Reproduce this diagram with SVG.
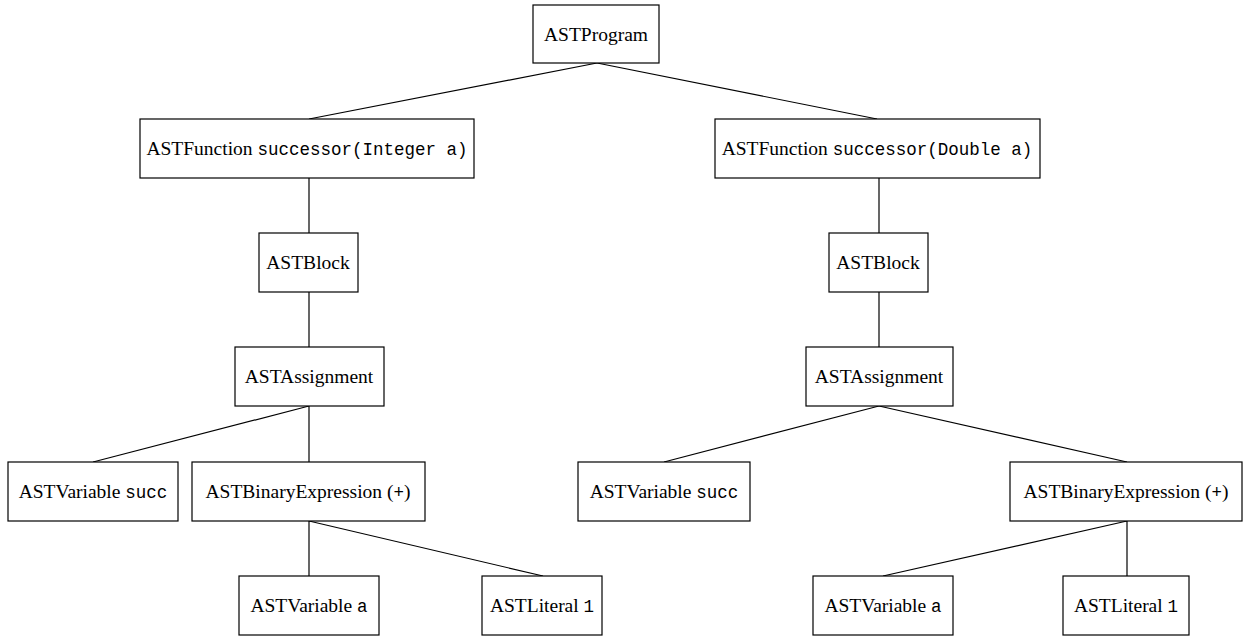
<svg xmlns="http://www.w3.org/2000/svg" width="1243" height="637" viewBox="0 0 1243 637">
<style>
.box{fill:#fff;stroke:#000;stroke-width:1.2}
.t{font-family:'Liberation Serif','Times New Roman',serif;font-size:19.5px;text-anchor:middle;fill:#000}
.m{font-family:'Liberation Mono','Courier New',monospace;font-size:17.5px}
.c{stroke:#000;stroke-width:1.2;fill:none}
</style>
<rect width="1243" height="637" fill="#fff"/>
<g id="connectors">
<line class="c" x1="597" y1="63" x2="309" y2="119"/>
<line class="c" x1="597" y1="63" x2="877" y2="119"/>
<line class="c" x1="309" y1="178" x2="309" y2="233"/>
<line class="c" x1="309" y1="292" x2="309" y2="347"/>
<line class="c" x1="309" y1="406" x2="93" y2="462"/>
<line class="c" x1="309" y1="406" x2="309" y2="462"/>
<line class="c" x1="309" y1="521" x2="309" y2="576"/>
<line class="c" x1="309" y1="521" x2="543" y2="576"/>
<line class="c" x1="879" y1="178" x2="879" y2="233"/>
<line class="c" x1="879" y1="292" x2="879" y2="347"/>
<line class="c" x1="879" y1="406" x2="664" y2="462"/>
<line class="c" x1="879" y1="406" x2="1127" y2="462"/>
<line class="c" x1="1127" y1="521" x2="883" y2="576"/>
<line class="c" x1="1127" y1="521" x2="1127" y2="576"/>
</g>
<g id="program"><rect class="box" x="533" y="5" width="126" height="58"/><text class="t" x="596" y="41">ASTProgram</text></g>
<g id="funcL"><rect class="box" x="140" y="119" width="334" height="59"/><text class="t" x="307" y="155">ASTFunction <tspan class="m">successor(Integer a)</tspan></text></g>
<g id="funcR"><rect class="box" x="715" y="119" width="325" height="59"/><text class="t" x="877" y="155">ASTFunction <tspan class="m">successor(Double a)</tspan></text></g>
<g id="blockL"><rect class="box" x="259" y="233" width="99" height="59"/><text class="t" x="308" y="269">ASTBlock</text></g>
<g id="blockR"><rect class="box" x="829" y="233" width="99" height="59"/><text class="t" x="878" y="269">ASTBlock</text></g>
<g id="assignL"><rect class="box" x="235" y="347" width="149" height="59"/><text class="t" x="309" y="383">ASTAssignment</text></g>
<g id="assignR"><rect class="box" x="806" y="347" width="147" height="59"/><text class="t" x="879" y="383">ASTAssignment</text></g>
<g id="varSuccL"><rect class="box" x="8" y="462" width="170" height="59"/><text class="t" x="93" y="498">ASTVariable <tspan class="m">succ</tspan></text></g>
<g id="binL"><rect class="box" x="192" y="462" width="233" height="59"/><text class="t" x="308" y="498">ASTBinaryExpression (<tspan class="m">+</tspan>)</text></g>
<g id="varSuccR"><rect class="box" x="578" y="462" width="172" height="59"/><text class="t" x="664" y="498">ASTVariable <tspan class="m">succ</tspan></text></g>
<g id="binR"><rect class="box" x="1010" y="462" width="232" height="59"/><text class="t" x="1126" y="498">ASTBinaryExpression (<tspan class="m">+</tspan>)</text></g>
<g id="varAL"><rect class="box" x="239" y="576" width="140" height="59"/><text class="t" x="309" y="612">ASTVariable <tspan class="m">a</tspan></text></g>
<g id="litL"><rect class="box" x="482" y="576" width="120" height="59"/><text class="t" x="542" y="612">ASTLiteral <tspan class="m">1</tspan></text></g>
<g id="varAR"><rect class="box" x="813" y="576" width="140" height="59"/><text class="t" x="883" y="612">ASTVariable <tspan class="m">a</tspan></text></g>
<g id="litR"><rect class="box" x="1063" y="576" width="126" height="59"/><text class="t" x="1126" y="612">ASTLiteral <tspan class="m">1</tspan></text></g>
</svg>
